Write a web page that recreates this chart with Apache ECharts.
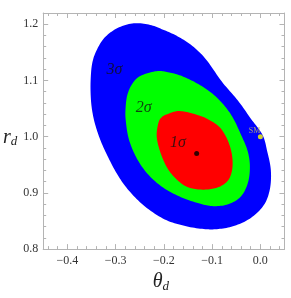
<!DOCTYPE html>
<html>
<head>
<meta charset="utf-8">
<script src="https://cdn.jsdelivr.net/npm/echarts@6/dist/echarts.min.js"></script>
<style>html,body{margin:0;padding:0;background:#fff}#c{width:291px;height:298px}</style>
</head>
<body>
<div id="c"></div>
<script>
// ---- data ----
const thetaTicks = [-0.4, -0.3, -0.2, -0.1, 0.0];
const rTicks = [0.8, 0.9, 1.0, 1.1, 1.2];

// 3 sigma region boundary
const blueTheta = [-0.3227,-0.2959,-0.2621,-0.2284,-0.2015,-0.1712,-0.1409,-0.1126,-0.0803,-0.0466,-0.0197,0.0045,0.014,0.0217,0.0197,0.0072,-0.0197,-0.0534,-0.087,-0.1173,-0.1577,-0.1981,-0.2385,-0.2722,-0.2959,-0.3167,-0.3318,-0.3429,-0.349,-0.3516,-0.3516,-0.3484,-0.3395];
const blueR = [1.1762,1.1932,1.2017,1.1988,1.1903,1.1784,1.1614,1.1375,1.0984,1.0643,1.032,1.0031,0.9746,0.9406,0.9066,0.8783,0.8555,0.8414,0.8357,0.8357,0.8414,0.8528,0.8754,0.9038,0.9321,0.9656,0.9946,1.0235,1.049,1.074,1.1023,1.1307,1.1534];
// 2 sigma region boundary
const greenTheta = [-0.2486,-0.2151,-0.1914,-0.1652,-0.1369,-0.1066,-0.0803,-0.0581,-0.0399,-0.0264,-0.0217,-0.0258,-0.0399,-0.0641,-0.0944,-0.1241,-0.1645,-0.2015,-0.2318,-0.2555,-0.2722,-0.2789,-0.2793,-0.2757,-0.2656];
const greenR = [1.1081,1.1166,1.1146,1.1086,1.0975,1.0814,1.0609,1.0354,1.0031,0.9746,0.9469,0.918,0.8941,0.8805,0.8763,0.8805,0.8924,0.9094,0.9321,0.9605,0.9946,1.0286,1.0507,1.074,1.0938];
// 1 sigma region boundary
const redTheta = [-0.1914,-0.1692,-0.1409,-0.1106,-0.0843,-0.0682,-0.0591,-0.0581,-0.0662,-0.0843,-0.1106,-0.1409,-0.1631,-0.188,-0.2045,-0.2146,-0.2116,-0.2045];
const redR = [1.0405,1.0456,1.0414,1.032,1.0167,0.9946,0.969,0.9435,0.9231,0.9111,0.906,0.9077,0.9163,0.9379,0.9656,0.998,1.0235,1.0346];

const bestTheta = [-0.132];
const bestR = [0.970];
const smTheta = [0.0];
const smR = [1.0];
const smLabel = ['SM'];

const sigmaTheta = [-0.3025, -0.242, -0.171];
const sigmaR = [1.119, 1.051, 0.989];
const sigmaText = ['3σ', '2σ', '1σ'];

// ---- chart ----
const X_MIN = -0.45, X_MAX = 0.05, Y_MIN = 0.8, Y_MAX = 1.22;
function minorVals(lo, hi, step) {
  const out = [];
  for (let v = lo; v <= hi + 1e-9; v += step) out.push(Math.round(v * 1000) / 1000);
  return out;
}
const xMinor = minorVals(-0.44, 0.04, 0.02);
const yMinor = minorVals(0.8, 1.22, 0.02);

const FRAME = '#b4b4b4';
const SERIF = '"Liberation Serif", "DejaVu Serif", serif';
const fmt = v => { const s = (Math.abs(v) < 1e-9 ? 0 : v).toFixed(1); return s.replace('-', '\u2212'); };

function xAx(pos, major, withLabel) {
  return {
    type: 'value', position: pos, min: X_MIN, max: X_MAX,
    axisLine: { show: major, onZero: false, lineStyle: { color: FRAME, width: 1 } },
    axisTick: { show: true, inside: true, length: major ? 5 : 3, customValues: major ? thetaTicks : xMinor, lineStyle: { color: FRAME } },
    axisLabel: withLabel ? { show: true, customValues: thetaTicks, formatter: fmt, color: '#333', fontFamily: SERIF, fontSize: 12, margin: 6 } : { show: false },
    splitLine: { show: false }
  };
}
function yAx(pos, major, withLabel) {
  return {
    type: 'value', position: pos, min: Y_MIN, max: Y_MAX,
    axisLine: { show: major, onZero: false, lineStyle: { color: FRAME, width: 1 } },
    axisTick: { show: true, inside: true, length: major ? 5 : 3, customValues: major ? rTicks : yMinor, lineStyle: { color: FRAME } },
    axisLabel: withLabel ? { show: true, customValues: rTicks, formatter: v => v.toFixed(1), color: '#333', fontFamily: SERIF, fontSize: 12, margin: 5 } : { show: false },
    splitLine: { show: false }
  };
}

const xa0 = xAx('bottom', true, true);
xa0.name = '{a|θ}{b|d}';
xa0.nameLocation = 'middle';
xa0.nameGap = 18;
xa0.nameTextStyle = {
  padding: [0, 6, 0, 0],
  rich: {
    a: { fontFamily: SERIF, fontStyle: 'italic', fontSize: 20, lineHeight: 22, color: '#222' },
    b: { fontFamily: SERIF, fontStyle: 'italic', fontSize: 13, lineHeight: 12, verticalAlign: 'bottom', color: '#222' }
  }
};
const ya0 = yAx('left', true, true);
ya0.name = '{a|r}{b|d}';
ya0.nameLocation = 'middle';
ya0.nameRotate = 0;
ya0.nameGap = 19;
ya0.nameTextStyle = {
  padding: [13, 0, 0, 0],
  rich: {
    a: { fontFamily: SERIF, fontStyle: 'italic', fontSize: 20, lineHeight: 22, color: '#222' },
    b: { fontFamily: SERIF, fontStyle: 'italic', fontSize: 13, lineHeight: 12, verticalAlign: 'bottom', color: '#222' }
  }
};

// closed Catmull-Rom outline through the projected boundary points (drawing only)
function smoothClosed(P) {
  const n = P.length, out = [], steps = 10;
  for (let i = 0; i < n; i++) {
    const p0 = P[(i - 1 + n) % n], p1 = P[i], p2 = P[(i + 1) % n], p3 = P[(i + 2) % n];
    for (let s = 0; s < steps; s++) {
      const t = s / steps, t2 = t * t, t3 = t2 * t;
      const f = k => 0.5 * (2 * p1[k] + (-p0[k] + p2[k]) * t + (2 * p0[k] - 5 * p1[k] + 4 * p2[k] - p3[k]) * t2 + (-p0[k] + 3 * p1[k] - 3 * p2[k] + p3[k]) * t3);
      out.push([f(0), f(1)]);
    }
  }
  return out;
}

function region(xs, ys, color) {
  const pts = xs.map((x, i) => [x, ys[i]]);
  return {
    type: 'custom', xAxisIndex: 0, yAxisIndex: 0, silent: true,
    data: pts,
    renderItem: function (params, api) {
      if (params.dataIndex !== 0) return null;
      const p = smoothClosed(pts.map(d => api.coord(d)));
      return { type: 'polygon', shape: { points: p }, style: { fill: color, stroke: null } };
    }
  };
}

const chart = echarts.init(document.getElementById('c'), null, { renderer: 'canvas' });
chart.setOption({
  animation: false,
  backgroundColor: '#fff',
  grid: { left: 37, right: 6.5, top: 13, bottom: 38.7, containLabel: false },
  xAxis: [xa0, xAx('bottom', false, false), xAx('top', true, false), xAx('top', false, false)],
  yAxis: [ya0, yAx('left', false, false), yAx('right', true, false), yAx('right', false, false)],
  series: [
    region(blueTheta, blueR, '#0000ff'),
    region(greenTheta, greenR, '#00ff00'),
    region(redTheta, redR, '#ff0000'),
    {
      type: 'scatter', xAxisIndex: 0, yAxisIndex: 0, symbolSize: 0, silent: true,
      data: sigmaTheta.map((x, i) => ({ value: [x, sigmaR[i]], name: sigmaText[i] })),
      label: { show: true, position: 'inside', formatter: p => p.name, fontFamily: SERIF, fontStyle: 'italic', fontSize: 16, color: '#111' }
    },
    {
      type: 'scatter', xAxisIndex: 0, yAxisIndex: 0, symbolSize: 5, silent: true,
      itemStyle: { color: '#000' },
      data: bestTheta.map((x, i) => [x, bestR[i]])
    },
    {
      type: 'scatter', xAxisIndex: 0, yAxisIndex: 0, symbolSize: 5, silent: true,
      itemStyle: { color: '#ffff00' },
      data: smTheta.map((x, i) => ({ value: [x, smR[i]], name: smLabel[i] })),
      label: { show: true, position: [-9, -7], align: 'left', verticalAlign: 'top', formatter: p => p.name, fontFamily: SERIF, fontSize: 8, color: '#cfc35a' }
    }
  ]
});
</script>
</body>
</html>
